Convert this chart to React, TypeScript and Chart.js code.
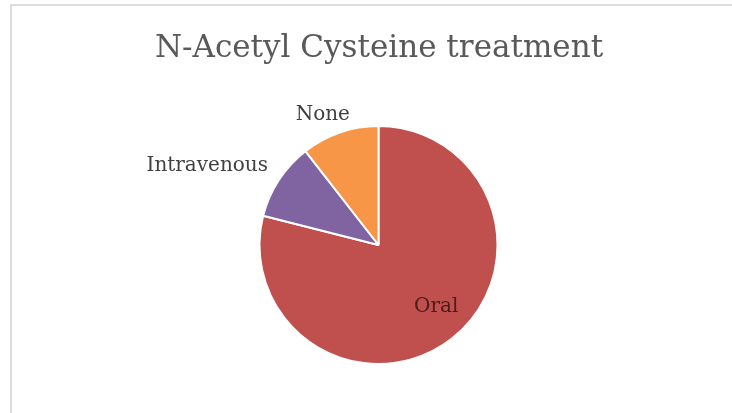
import React, { useEffect, useRef } from "react";
import { Chart, registerables } from "chart.js";

Chart.register(...registerables);

const chartTitle = "N-Acetyl Cysteine treatment";
const categories = ["Oral", "Intravenous", "None"];
const patientCounts = [15, 2, 2];
const sliceColors = ["#c0504d", "#8064a2", "#f79646"];

// Label placement per slice: radial distance (as a multiple of the radius),
// angular nudge in degrees, and the text colour.
const labelStyle: Record<string, { k: number; nudge: number; color: string }> = {
  Oral: { k: 0.7, nudge: -6, color: "#4a1c1c" },
  Intravenous: { k: 1.59, nudge: -8, color: "#404040" },
  None: { k: 1.2, nudge: -4, color: "#404040" },
};

const SERIF = '"DejaVu Serif", serif';

const sliceLabels = {
  id: "sliceLabels",
  afterDatasetsDraw(chart: Chart) {
    const ctx = chart.ctx;
    const meta = chart.getDatasetMeta(0);
    ctx.save();
    ctx.font = `20px ${SERIF}`;
    ctx.textAlign = "center";
    ctx.textBaseline = "middle";
    meta.data.forEach((el: any, i: number) => {
      const name = categories[i];
      const st = labelStyle[name];
      const { x, y, startAngle, endAngle, outerRadius } = el.getProps(
        ["x", "y", "startAngle", "endAngle", "outerRadius"],
        true
      );
      const mid = (startAngle + endAngle) / 2 + (st.nudge * Math.PI) / 180;
      const r = outerRadius * st.k;
      ctx.fillStyle = st.color;
      ctx.fillText(name, x + Math.cos(mid) * r, y + Math.sin(mid) * r + 1.5);
    });
    ctx.restore();
  },
};

const titleText = {
  id: "titleText",
  afterDraw(chart: Chart) {
    const ctx = chart.ctx;
    ctx.save();
    ctx.font = `31px ${SERIF}`;
    ctx.fillStyle = "#595959";
    ctx.textAlign = "center";
    ctx.textBaseline = "alphabetic";
    ctx.fillText(chartTitle, 379, 57);
    ctx.restore();
  },
};

export default function App() {
  const canvasRef = useRef<HTMLCanvasElement | null>(null);

  useEffect(() => {
    if (!canvasRef.current) return;
    const chart = new Chart(canvasRef.current, {
      type: "pie",
      data: {
        labels: categories,
        datasets: [
          {
            data: patientCounts,
            backgroundColor: sliceColors,
            borderColor: "#ffffff",
            borderWidth: 2,
          },
        ],
      },
      options: {
        responsive: false,
        animation: false,
        radius: 119,
        layout: { padding: { left: 258, right: 233, top: 125, bottom: 48 } },
        plugins: {
          legend: { display: false },
          title: { display: false },
          tooltip: { enabled: false },
        },
      },
      plugins: [sliceLabels, titleText],
    });
    return () => chart.destroy();
  }, []);

  return (
    <div
      style={{
        position: "fixed",
        left: 0,
        top: 0,
        width: 732,
        height: 413,
        overflow: "hidden",
        background: "#ffffff",
      }}
    >
      <div
        style={{
          position: "absolute",
          left: 10,
          top: 4,
          width: 760,
          height: 460,
          border: "2px solid #dcdcdc",
          boxSizing: "border-box",
        }}
      />
      <canvas
        ref={canvasRef}
        width={732}
        height={413}
        style={{ position: "absolute", left: 0, top: 0 }}
      />
    </div>
  );
}
